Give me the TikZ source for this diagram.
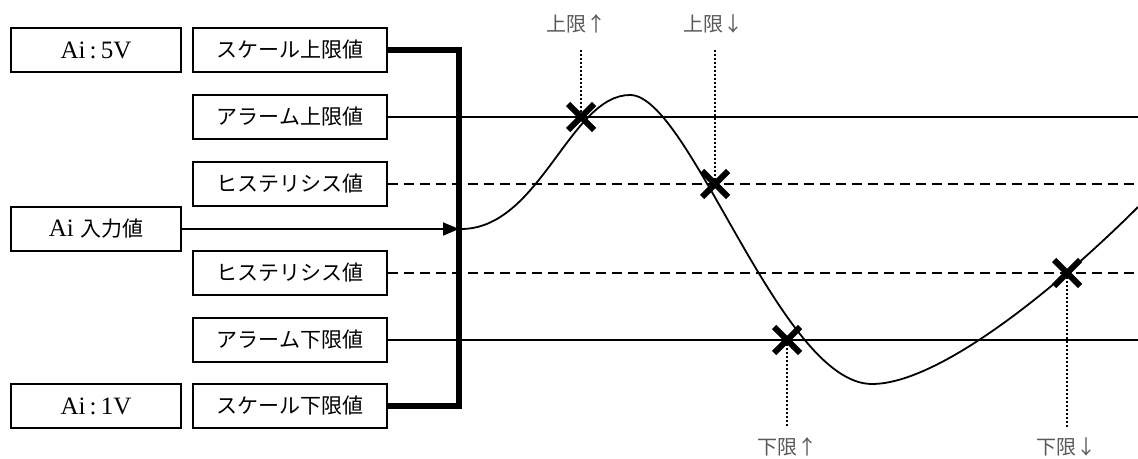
\documentclass[tikz,border=0pt]{standalone}
\usepackage{fontspec}
\setmainfont{Liberation Serif}
\newfontfamily\jp{Noto Sans CJK JP}
\usetikzlibrary{arrows.meta}
\begin{document}
\begin{tikzpicture}[x=0.5pt,y=-0.5pt,
  lbox/.style={draw, line width=0.9pt, minimum width=85pt, minimum height=22pt, inner sep=0pt, font=\fontsize{12.5}{14}\selectfont},
  rbox/.style={lbox, minimum width=97pt, font=\fontsize{10.5}{12}\selectfont},
  lbl/.style={text=black!65, inner sep=0pt, font=\jp\fontsize{10}{12}\selectfont},
  solidln/.style={line width=0.9pt},
  dashln/.style={line width=0.9pt, dash pattern=on 5pt off 3pt},
  dotln/.style={line width=1pt, dash pattern=on 1pt off 1pt},
  thickln/.style={line width=3pt, line join=miter},
  xmark/.style={line width=3pt},
  curveln/.style={line width=0.9pt}]
\useasboundingbox (0,0) rectangle (1138,459);

% boxes
\node[lbox] (ai5) at (96,50) {Ai\,:\,5V};
\node[lbox] (ain) at (96,229) {Ai {\jp\fontsize{10.5}{12}\selectfont 入力値}};
\node[lbox] (ai1) at (96,406) {Ai\,:\,1V};
\node[rbox] (sH) at (290,50) {\jp スケール上限値};
\node[rbox] (aH) at (290,117) {\jp アラーム上限値};
\node[rbox] (hH) at (290,184) {\jp ヒステリシス値};
\node[rbox] (hL) at (290,273) {\jp ヒステリシス値};
\node[rbox] (aL) at (290,340) {\jp アラーム下限値};
\node[rbox] (sL) at (290,406) {\jp スケール下限値};

% right ends of level lines
\coordinate (eAH) at (1138,117);
\coordinate (eHH) at (1138,184);
\coordinate (eHL) at (1138,273);
\coordinate (eAL) at (1138,340);

\draw[solidln] (aH.east) -- (eAH);
\draw[dashln] (hH.east) -- (eHH);
\draw[dashln] (hL.east) -- (eHL);
\draw[solidln] (aL.east) -- (eAL);

% bar
\coordinate (barT) at (459,50);
\coordinate (barB) at (459,406);
\coordinate (barIn) at (459,229);
\draw[solidln, -{Triangle[length=8pt,width=6.5pt]}] (ain.east) -- (barIn);
\draw[thickln] (sH.east) -- (barT) -- (barB) -- (sL.east);

% curve
\draw[curveln] (461,229) .. controls (540,229) and (570,95) .. (630,95)
  .. controls (690,95) and (780,384) .. (872,384)
  .. controls (940,384) and (1060,285) .. (1138,207);

% crossing points
\coordinate (x1) at (581,117);
\coordinate (x2) at (715,184);
\coordinate (x3) at (787,340);
\coordinate (x4) at (1067,273);
\coordinate (t1) at (581,50);
\coordinate (t2) at (715,50);
\coordinate (b3) at (787,428);
\coordinate (b4) at (1067,428);

\draw[dotln] (t1) -- (x1);
\draw[dotln] (t2) -- (x2);
\draw[dotln] (x3) -- (b3);
\draw[dotln] (x4) -- (b4);

\foreach \p in {x1,x2,x3,x4}{
  \draw[xmark] (\p) +(-13,-13) -- +(13,13);
  \draw[xmark] (\p) +(-13,13) -- +(13,-13);
}

% labels
\node[lbl] (lu1) at (576,24) {上限↑};
\node[lbl] (lu2) at (713,24) {上限↓};
\node[lbl] (ld1) at (787,447) {下限↑};
\node[lbl] (ld2) at (1066,447) {下限↓};
\end{tikzpicture}
\end{document}
